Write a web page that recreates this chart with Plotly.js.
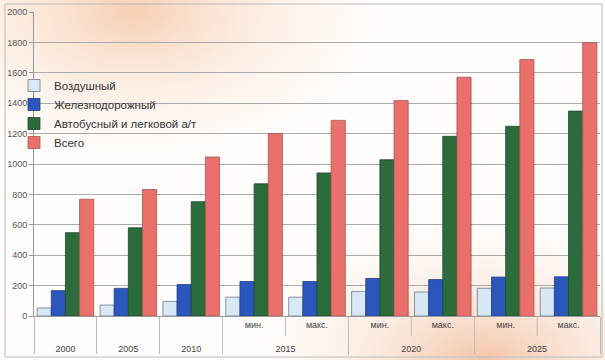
<!DOCTYPE html>
<html>
<head>
<meta charset="utf-8">
<script src="https://cdn.plot.ly/plotly-3.0.1.min.js"></script>
<style>
html,body{margin:0;padding:0;background:#fff;}
#chart{width:605px;height:360px;}
</style>
</head>
<body>
<div id="chart"></div>
<script>
// Outer (year) and inner (scenario) category labels
var years = ["2000", "2005", "2010", "2015", "2015", "2020", "2020", "2025", "2025"];
var scenarios = [" ", "  ", "   ", "мин.", "макс.", "мин.", "макс.", "мин.", "макс."];

var seriesNames = ["Воздушный", "Железнодорожный", "Автобусный и легковой а/т", "Всего"];
var air   = [53, 72, 96, 124, 124, 162, 158, 182, 184];
var rail  = [167, 182, 207, 227, 227, 247, 240, 256, 258];
var road  = [548, 580, 752, 870, 941, 1028, 1182, 1248, 1348];
var total = [768, 832, 1046, 1200, 1287, 1417, 1571, 1687, 1798];

var yTicks = [0, 200, 400, 600, 800, 1000, 1200, 1400, 1600, 1800, 2000];

var colors = ["#d9e8f6", "#2b56bb", "#2c6b3c", "#e9706b"];
var lines  = ["#6f7a86", "#203f8a", "#1e4a2a", "#a85550"];
var values = [air, rail, road, total];

var innerLabels = scenarios.map(function (s) { return s + "<br> "; });

var data = values.map(function (v, i) {
  return {
    type: "bar",
    name: seriesNames[i],
    x: [years, innerLabels],
    y: v,
    marker: {color: colors[i], line: {color: lines[i], width: 0.8}},
    hoverinfo: "y"
  };
});

var bgSvg = '<svg xmlns="http://www.w3.org/2000/svg" width="605" height="360">' +
  '<defs>' +
  '<radialGradient id="a" cx="0.22" cy="0.03" r="0.5"><stop offset="0" stop-color="#f6c9aa" stop-opacity="0.9"/><stop offset="1" stop-color="#ffffff" stop-opacity="0"/></radialGradient>' +
  '<radialGradient id="b" cx="0.8" cy="1.0" r="0.45"><stop offset="0" stop-color="#f2bf9f" stop-opacity="0.9"/><stop offset="1" stop-color="#ffffff" stop-opacity="0"/></radialGradient>' +
  '</defs>' +
  '<rect width="605" height="360" fill="#fffdfb"/>' +
  '<rect width="605" height="360" fill="url(#a)"/>' +
  '<rect width="605" height="360" fill="url(#b)"/>' +
  '</svg>';

// short dividers between мин./макс. columns inside a year (top label row)
var innerDividers = [];
for (var k = 1; k < years.length; k++) {
  if (years[k] === years[k - 1]) {
    innerDividers.push({
      type: "line", xref: "paper", yref: "paper",
      x0: k / years.length, x1: k / years.length,
      y0: 0, y1: -20 / 304,
      line: {color: "#bbb", width: 1}
    });
  }
}

var layout = {
  width: 605,
  height: 360,
  margin: {l: 34, r: 5, t: 12, b: 44},
  paper_bgcolor: "rgba(0,0,0,0)",
  plot_bgcolor: "rgba(0,0,0,0)",
  font: {family: "Liberation Sans, Arial, sans-serif", color: "#444"},
  barmode: "group",
  bargap: 0.1,
  bargroupgap: 0,
  showlegend: true,
  legend: {
    x: -20 / 566, y: 1 - 59 / 304, xanchor: "left", yanchor: "top",
    bgcolor: "rgba(0,0,0,0)",
    font: {size: 11.5, color: "#333"},
    itemwidth: 30,
    tracegroupgap: 0
  },
  xaxis: {
    type: "multicategory",
    tickfont: {size: 9, color: "#444"},
    showline: true,
    linecolor: "#999",
    linewidth: 1,
    showdividers: true,
    dividercolor: "#bbb",
    dividerwidth: 1,
    showgrid: false,
    ticks: ""
  },
  yaxis: {
    range: [0, 2000],
    tickvals: yTicks,
    ticktext: yTicks.map(String),
    tickfont: {size: 9, color: "#555"},
    showgrid: true,
    gridcolor: "#aaa",
    gridwidth: 1,
    showline: true,
    linecolor: "#999",
    zeroline: false,
    ticks: "outside",
    ticklen: 4,
    tickcolor: "#999"
  },
  images: [{
    source: "data:image/svg+xml;charset=utf-8," + encodeURIComponent(bgSvg),
    xref: "paper", yref: "paper",
    x: -34/566, y: 1 + 12/304,
    sizex: 605/566, sizey: 360/304,
    sizing: "stretch",
    xanchor: "left", yanchor: "top",
    layer: "below"
  }],
  shapes: [{
    type: "rect", xref: "paper", yref: "paper",
    x0: -29/566, x1: 1 + 2/566, y0: -41/304, y1: 1 + 8/304,
    line: {color: "#bbb", width: 1}, fillcolor: "rgba(0,0,0,0)", layer: "below"
  }].concat(innerDividers)
};

Plotly.newPlot("chart", data, layout, {displayModeBar: false, staticPlot: true});
</script>
</body>
</html>
